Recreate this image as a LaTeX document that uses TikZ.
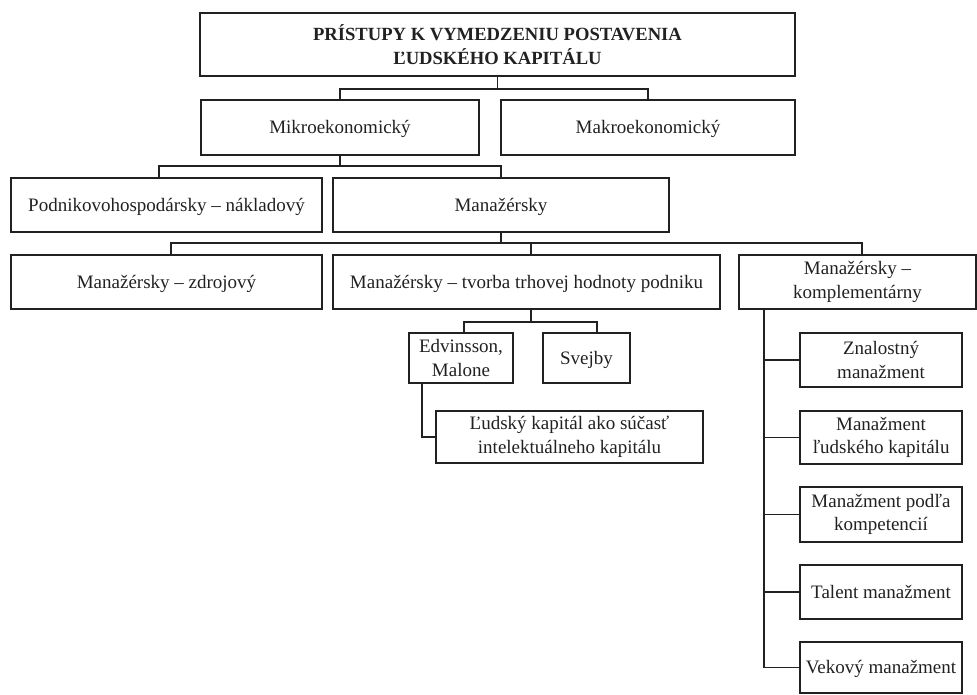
\documentclass[tikz,border=0pt]{standalone}
\usepackage{fontspec}
\setmainfont{Liberation Serif}
\definecolor{ink}{gray}{0.13}
\begin{document}
\begin{tikzpicture}[x=1pt,y=-1pt,
  box/.style={draw=ink, line width=1.3pt, inner sep=0pt, align=center,
    text=ink, font=\fontsize{19}{23.5}\selectfont},
  one/.style={text height=16pt, text depth=4pt},
  link/.style={draw=ink, line width=1.2pt},
  trunkline/.style={draw=ink, line width=1.8pt},
]
\useasboundingbox (0,0) rectangle (977,694);

% title
\node[box, line width=1.8pt, minimum width=595pt, minimum height=63pt,
  font=\fontsize{18.6}{24}\selectfont\bfseries] (top) at (497.5,44.5)
  {PRÍSTUPY K VYMEDZENIU POSTAVENIA\\ĽUDSKÉHO KAPITÁLU};

% first level
\node[box, one, minimum width=278pt, minimum height=55pt] (mikro) at (340,127.5) {Mikroekonomický};
\node[box, one, minimum width=294pt, minimum height=55pt] (makro) at (648,127.5) {Makroekonomický};

% second level
\node[box, one, minimum width=311pt, minimum height=54pt] (podnik) at (166.5,205) {Podnikovohospodársky – nákladový};
\node[box, one, minimum width=336pt, minimum height=54pt] (manaz) at (501,205) {Manažérsky};

% third level
\node[box, one, minimum width=311pt, minimum height=54pt] (zdroj) at (166.5,282) {Manažérsky – zdrojový};
\node[box, one, minimum width=387pt, minimum height=54pt] (tvorba) at (526.5,282) {Manažérsky – tvorba trhovej hodnoty podniku};
\node[box, minimum width=237pt, minimum height=54pt] (kompl) at (857.5,282) {Manažérsky –\\komplementárny};

% market value branch
\node[box, minimum width=104pt, minimum height=50pt] (edv) at (461,358) {Edvinsson,\\Malone};
\node[box, one, minimum width=87pt, minimum height=50pt] (svejby) at (586.5,358) {Svejby};
\node[box, minimum width=267pt, minimum height=52pt] (ludsky) at (569.5,437) {Ľudský kapitál ako súčasť\\intelektuálneho kapitálu};

% complementary branch
\node[box, minimum width=162pt, minimum height=54pt] (s1) at (881,360) {Znalostný\\manažment};
\node[box, minimum width=162pt, minimum height=53pt] (s2) at (881,437.5) {Manažment\\ľudského kapitálu};
\node[box, minimum width=162pt, minimum height=55pt] (s3) at (881,514.5) {Manažment podľa\\kompetencií};
\node[box, one, minimum width=162pt, minimum height=54pt] (s4) at (881,592) {Talent manažment};
\node[box, one, minimum width=162pt, minimum height=51pt] (s5) at (881,667.5) {Vekový manažment};

% rails of the connectors
\coordinate (r1) at (0,89);
\coordinate (r2) at (0,166);
\coordinate (r3) at (0,243);
\coordinate (r4) at (0,322);

% title -> first level
\draw[link] (top.south) -- (top.south |- r1);
\draw[link] (mikro.north) |- (top.south |- r1) -| (makro.north);

% first -> second level
\draw[link] (mikro.south) -- (mikro.south |- r2);
\draw[link] ([xshift=-7.5pt]podnik.north) |- (mikro.south |- r2) -| (manaz.north);

% second -> third level
\draw[trunkline] (manaz.south) -- (manaz.south |- r3);
\draw[link] ([xshift=4.5pt]zdroj.north) |- (manaz.south |- r3) -| ([xshift=4.5pt]kompl.north);
\draw[link] ([xshift=4.5pt]tvorba.north) -- ([xshift=4.5pt]tvorba.north |- r3);

% market value -> authors
\draw[link] ([xshift=4.5pt]tvorba.south) -- ([xshift=4.5pt]tvorba.south |- r4);
\draw[link] ([xshift=3pt]edv.north) |- ([xshift=4.5pt]tvorba.south |- r4) -| ([xshift=10.5pt]svejby.north);
\draw[link] ([xshift=-39pt]edv.south) |- (ludsky.west);

% complementary -> its five approaches
\coordinate (trunk) at ([xshift=26pt]kompl.south west);
\draw[trunkline] (trunk) |- (s5.west);
\draw[link] (s1.west) -- (s1.west -| trunk);
\draw[link] (s2.west) -- (s2.west -| trunk);
\draw[link] (s3.west) -- (s3.west -| trunk);
\draw[link] (s4.west) -- (s4.west -| trunk);
\end{tikzpicture}
\end{document}
